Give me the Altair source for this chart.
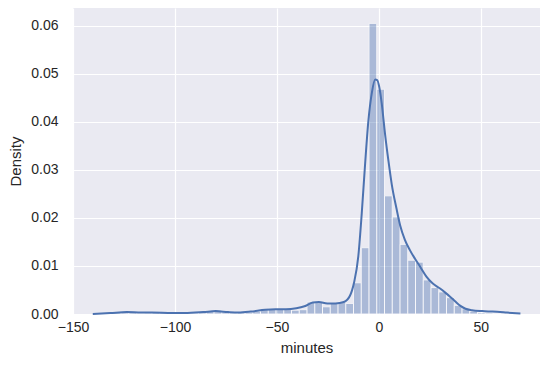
import altair as alt
import pandas as pd

# Histogram (density) bins: left edges and heights
bin_width = 3.8
bin_first_edge = -130.25
bar_density = [
    0.0003, 0.0005, 0.0003, 0.0000, 0.0002, 0.0003, 0.0003, 0.0002, 0.0003, 0.0002,
    0.0002, 0.0003, 0.0006, 0.0008, 0.0004, 0.0002, 0.0003, 0.0004, 0.0005, 0.0009,
    0.0010, 0.0010, 0.0011, 0.0008, 0.0009, 0.0025, 0.0024, 0.0015, 0.0023, 0.0025,
    0.0022, 0.0065, 0.0138, 0.0605, 0.0468, 0.0246, 0.0202, 0.0145, 0.0112, 0.0108,
    0.0071, 0.0055, 0.0046, 0.0034, 0.0018, 0.0011, 0.0006, 0.0003, 0.0002, 0.0001,
]

# KDE curve
kde_x = [-140.3, -131.7, -123.6, -116.5, -111.4, -101.3, -95.2, -86.1, -80.0, -74.0,
         -68.9, -62.8, -55.7, -50.7, -45.6, -40.5, -36.5, -32.4, -29.4, -25.3,
         -21.3, -17.2, -14.2, -12.2, -10.1, -8.4, -6.8, -5.2, -3.4, -1.8,
         -0.8, 0.2, 1.4, 3.0, 4.7, 6.3, 8.6, 10.4, 12.7, 15.2,
         17.7, 20.3, 23.3, 26.3, 30.0, 32.4, 34.9, 37.5, 40.0, 42.5,
         45.6, 50.7, 55.7, 62.8, 69.4]
kde_y = [0.0000, 0.0002, 0.0004, 0.0003, 0.0003, 0.0002, 0.0002, 0.0004, 0.0006, 0.0004,
         0.0003, 0.0005, 0.0009, 0.0010, 0.0010, 0.0012, 0.0016, 0.0024, 0.0025, 0.0022,
         0.0022, 0.0025, 0.0038, 0.0065, 0.0120, 0.0210, 0.0310, 0.0400, 0.0462, 0.0488,
         0.0487, 0.0472, 0.0438, 0.0375, 0.0318, 0.0270, 0.0220, 0.0185, 0.0155, 0.0133,
         0.0115, 0.0098, 0.0078, 0.0064, 0.0053, 0.0045, 0.0036, 0.0026, 0.0017, 0.0011,
         0.0008, 0.0006, 0.0005, 0.0003, 0.0001]

x_ticks = [-150, -100, -50, 0, 50]
y_ticks = [0.00, 0.01, 0.02, 0.03, 0.04, 0.05, 0.06]

bars = pd.DataFrame({
    "start": [bin_first_edge + i * bin_width for i in range(len(bar_density))],
    "end": [bin_first_edge + (i + 1) * bin_width for i in range(len(bar_density))],
    "density": bar_density,
})
kde = pd.DataFrame({"minutes": kde_x, "density": kde_y})

blue = "#4C72B0"
xscale = alt.Scale(domain=[-150, 79], nice=False, zero=False)
yscale = alt.Scale(domain=[0, 0.0637], nice=False)

xaxis = alt.Axis(values=x_ticks, title="minutes", format="d", labelFlush=False)
yaxis = alt.Axis(values=y_ticks, title="Density", format=".2f", labelFlush=False)

hist = alt.Chart(bars).mark_bar(
    color=blue, opacity=0.4, stroke="white", strokeWidth=1
).encode(
    x=alt.X("start:Q", scale=xscale, axis=xaxis),
    x2="end:Q",
    y=alt.Y("density:Q", scale=yscale, axis=yaxis),
    y2=alt.datum(0),
)

line = alt.Chart(kde).mark_line(
    color=blue, strokeWidth=2, interpolate="monotone"
).encode(
    x=alt.X("minutes:Q", scale=xscale),
    y=alt.Y("density:Q", scale=yscale),
)

chart = alt.layer(hist, line).properties(
    width=467, height=306,
    padding={"left": 0, "top": 0, "right": 2, "bottom": 2},
).configure_view(
    fill="#EAEAF2", stroke=None
).configure_axis(
    domain=False, ticks=False, grid=True, gridColor="white", gridWidth=1.2,
    labelFont="Liberation Sans", labelFontSize=14, labelColor="#262626",
    titleFont="Liberation Sans", titleFontSize=15, titleColor="#262626",
    titleFontWeight="normal",
).configure_axisY(
    labelPadding=15, titlePadding=7,
).configure_axisX(
    labelPadding=6, titlePadding=6,
)

chart.save("out.html", embed_options={"renderer": "svg", "actions": False})
